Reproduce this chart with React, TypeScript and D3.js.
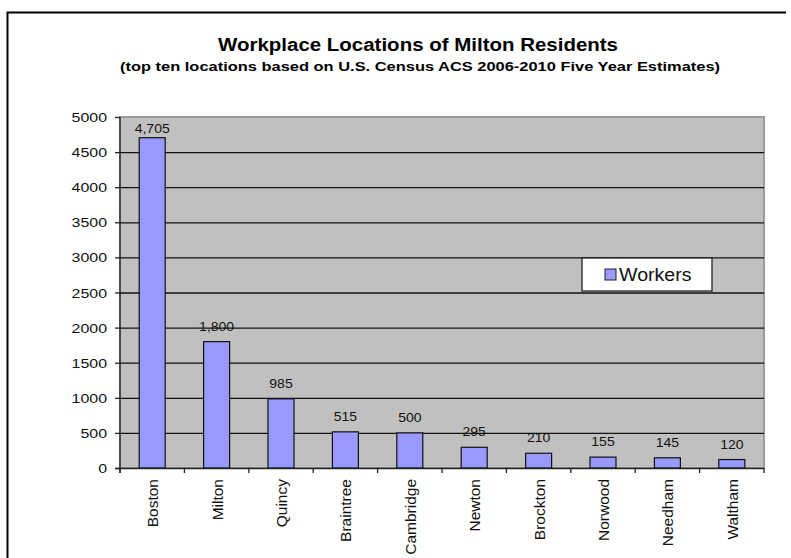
import { useEffect, useRef } from 'react';
import * as d3 from 'd3';

const places = ['Boston', 'Milton', 'Quincy', 'Braintree', 'Cambridge', 'Newton', 'Brockton', 'Norwood', 'Needham', 'Waltham'];
const workers = [4705, 1800, 985, 515, 500, 295, 210, 155, 145, 120];
const yTicks = [0, 500, 1000, 1500, 2000, 2500, 3000, 3500, 4000, 4500, 5000];

const W = 791;
const H = 558;
const font = 'Arial, "Liberation Sans", sans-serif';
// the reference text looks stretched sideways a bit
const SX = 1.18;

const App = () => {
  const ref = useRef<SVGSVGElement>(null);

  useEffect(() => {
    const svg = d3.select(ref.current);
    svg.selectAll('*').remove();

    const left = 120, right = 764, top = 117, bottom = 468;
    const x = d3.scaleBand().domain(places).range([left, right]);
    const y = d3.scaleLinear().domain([0, 5000]).range([bottom, top]);

    // outer frame (only top & left visible)
    svg.append('path')
      .attr('d', `M7.5,${H} V12.5 H786`)
      .attr('fill', 'none')
      .attr('stroke', '#000')
      .attr('stroke-width', 2);

    // title
    svg.append('text')
      .attr('x', 218).attr('y', 51)
      .attr('textLength', 400).attr('lengthAdjust', 'spacingAndGlyphs')
      .attr('font-family', font).attr('font-weight', 'bold').attr('font-size', 17.5)
      .text('Workplace Locations of Milton Residents');
    svg.append('text')
      .attr('x', 120).attr('y', 71)
      .attr('textLength', 600).attr('lengthAdjust', 'spacingAndGlyphs')
      .attr('font-family', font).attr('font-weight', 'bold').attr('font-size', 13.5)
      .text('(top ten locations based on U.S. Census ACS 2006-2010 Five Year Estimates)');

    // plot area
    svg.append('rect')
      .attr('x', left).attr('y', top)
      .attr('width', right - left).attr('height', bottom - top)
      .attr('fill', '#c0c0c0')
      .attr('stroke', '#9a9a9a').attr('stroke-width', 2);

    // gridlines
    svg.append('g').selectAll('line')
      .data(yTicks.filter((t) => t > 0 && t < 5000))
      .enter().append('line')
      .attr('x1', left).attr('x2', right)
      .attr('y1', (d) => y(d) + 0.5).attr('y2', (d) => y(d) + 0.5)
      .attr('stroke', '#111').attr('stroke-width', 1.3);

    // bars
    const bw = 26;
    svg.append('g').selectAll('rect')
      .data(places)
      .enter().append('rect')
      .attr('x', (d) => (x(d) as number) + x.bandwidth() / 2 - bw / 2)
      .attr('y', (_, i) => y(workers[i]))
      .attr('width', bw)
      .attr('height', (_, i) => bottom - y(workers[i]))
      .attr('fill', '#9999ff')
      .attr('stroke', '#111').attr('stroke-width', 1.2);

    // value labels (pushed down when they'd leave the plot)
    svg.append('g').selectAll('text')
      .data(places)
      .enter().append('text')
      .attr('transform', (d, i) => `translate(${(x(d) as number) + x.bandwidth() / 2},${Math.max(y(workers[i]) - 11, top + 16)}) scale(1.12,1)`)
      .attr('text-anchor', 'middle')
      .attr('font-family', font).attr('font-size', 12.5)
      .attr('fill', '#111')
      .text((_, i) => d3.format(',')(workers[i]));

    // y axis
    const ya = svg.append('g');
    ya.append('line')
      .attr('x1', left).attr('x2', left).attr('y1', top).attr('y2', bottom + 5)
      .attr('stroke', '#222').attr('stroke-width', 1.3);
    ya.selectAll('line.tick')
      .data(yTicks)
      .enter().append('line')
      .attr('class', 'tick')
      .attr('x1', left - 5).attr('x2', left)
      .attr('y1', (d) => y(d) + 0.5).attr('y2', (d) => y(d) + 0.5)
      .attr('stroke', '#222').attr('stroke-width', 1.3);
    ya.selectAll('text')
      .data(yTicks)
      .enter().append('text')
      .attr('transform', (d) => `translate(${left - 13},${y(d) + 5}) scale(${SX},1)`)
      .attr('text-anchor', 'end')
      .attr('font-family', font).attr('font-size', 13.5)
      .attr('fill', '#111')
      .text((d) => d);

    // x axis
    const xa = svg.append('g');
    xa.append('line')
      .attr('x1', left - 5).attr('x2', right).attr('y1', bottom + 0.5).attr('y2', bottom + 0.5)
      .attr('stroke', '#222').attr('stroke-width', 1.5);
    xa.selectAll('line.tick')
      .data(d3.range(places.length + 1))
      .enter().append('line')
      .attr('class', 'tick')
      .attr('x1', (i) => left + i * x.step()).attr('x2', (i) => left + i * x.step())
      .attr('y1', bottom).attr('y2', bottom + 5)
      .attr('stroke', '#222').attr('stroke-width', 1.3);
    xa.selectAll('text')
      .data(places)
      .enter().append('text')
      .attr('transform', (d) => `translate(${(x(d) as number) + x.bandwidth() / 2 + 6},${bottom + 11}) rotate(-90)`)
      .attr('text-anchor', 'end')
      .attr('font-family', font).attr('font-size', 15.5)
      .attr('fill', '#111')
      .text((d) => d);

    // legend
    const lg = svg.append('g').attr('transform', 'translate(582,258)');
    lg.append('rect')
      .attr('width', 130).attr('height', 33)
      .attr('fill', '#fff').attr('stroke', '#222').attr('stroke-width', 1.3);
    lg.append('rect')
      .attr('x', 23).attr('y', 11).attr('width', 11).attr('height', 11)
      .attr('fill', '#9999ff').attr('stroke', '#222').attr('stroke-width', 1);
    lg.append('text')
      .attr('transform', `translate(37,23) scale(1.12,1)`)
      .attr('font-family', font).attr('font-size', 17.5)
      .attr('fill', '#111')
      .text('Workers');
  }, []);

  return (
    <svg
      ref={ref}
      width={W}
      height={H}
      style={{ position: 'absolute', left: 0, top: 0, background: '#fff' }}
    ></svg>
  );
};

export default App;
